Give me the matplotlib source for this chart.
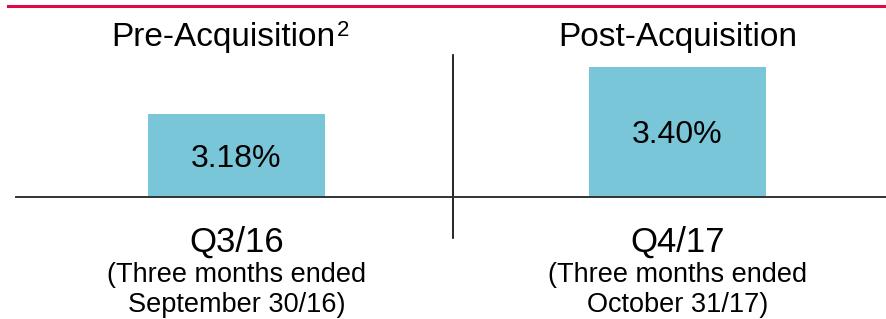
import matplotlib
matplotlib.use("Agg")
import matplotlib.pyplot as plt
from matplotlib.lines import Line2D

# ── Data ──────────────────────────────────────────────────────────────────────

HEADERS   = ["Pre-Acquisition", "Post-Acquisition"]
FOOTNOTES = ["2", ""]
PERIODS   = ["Q3/16", "Q4/17"]
SUB_LINE1 = ["(Three months ended", "(Three months ended"]
SUB_LINE2 = ["September 30/16)", "October 31/17)"]
VALUES    = [3.18, 3.40]

Y_MIN, Y_MAX = 2.796, 3.455      # value axis is not zero-based
DIVIDER_X    = 0.492

BAR_COLOR = "#7ac6d9"
RED       = "#dc0a45"

plt.rcParams["font.family"] = ["Liberation Sans", "DejaVu Sans"]

fig = plt.figure(figsize=(8.87, 3.19), dpi=100)
W, H = 887, 319

# axes box (pixels): left 16, right 887, baseline y=196.5, top y=55
ax = fig.add_axes([16 / W, 1 - 196.5 / H, (887 - 16) / W, (196.5 - 55) / H])
ax.set_xlim(-0.5, 1.475)
ax.set_ylim(Y_MIN, Y_MAX)

x = list(range(len(VALUES)))
ax.bar(x, [v - Y_MIN for v in VALUES], width=0.4, bottom=Y_MIN,
       color=BAR_COLOR, zorder=2)

# value labels centred in each bar
for xi, v in zip(x, VALUES):
    ax.annotate(f"{v:.2f}%", (xi, (Y_MIN + v) / 2), xytext=(0, -8.2),
                textcoords="offset points", ha="center", va="baseline",
                fontsize=23, zorder=3)

# only the baseline is kept from the frame
for side in ["top", "right", "left"]:
    ax.spines[side].set_visible(False)
ax.spines["bottom"].set_color("#333333")
ax.spines["bottom"].set_linewidth(1.4)
ax.set_xticks([])
ax.set_yticks([])

# divider between the two periods, running below the baseline
ax.axvline(DIVIDER_X, ymin=-41 / 141.5, ymax=1, color="black", lw=1.2,
           clip_on=False)

# headers above, period labels below
for xi, head, note, per, l1, l2 in zip(x, HEADERS, FOOTNOTES, PERIODS,
                                       SUB_LINE1, SUB_LINE2):
    dx = -9.7 if note else 0      # footnoted header sits a bit to the left
    h = ax.annotate(head, (xi, 1), xycoords=("data", "axes fraction"),
                    xytext=(dx, 6.5), textcoords="offset points",
                    ha="center", va="baseline", fontsize=24)
    if note:
        ax.annotate(note, (1, 0), xycoords=h, xytext=(1.5, 23.5),
                    textcoords="offset points", ha="left", va="top",
                    fontsize=16)
    ax.annotate(per, (xi, 0), xycoords=("data", "axes fraction"),
                xytext=(0, -39.6), textcoords="offset points",
                ha="center", va="baseline", fontsize=25)
    ax.annotate(l1, (xi, 0), xycoords=("data", "axes fraction"),
                xytext=(0, -61.2), textcoords="offset points",
                ha="center", va="baseline", fontsize=19.5)
    ax.annotate(l2, (xi, 0), xycoords=("data", "axes fraction"),
                xytext=(0, -83.5), textcoords="offset points",
                ha="center", va="baseline", fontsize=19.5)

# red rule across the top
fig.add_artist(Line2D([8 / W, 1], [1 - 5.5 / H] * 2, color=RED, lw=2.2))

fig.savefig("out.png", dpi=100)
